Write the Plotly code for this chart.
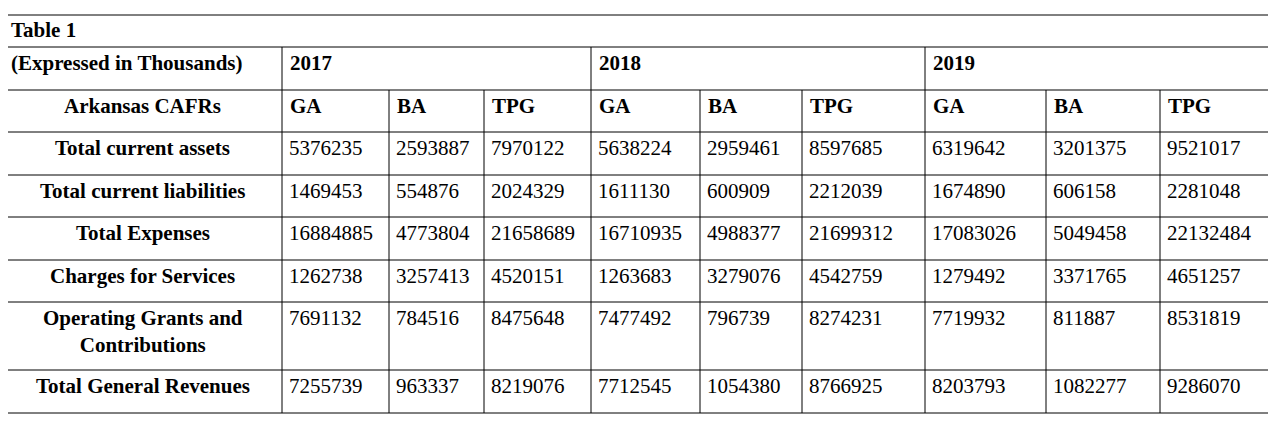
import plotly.graph_objects as go

# data
title = "Table 1"
unit_label = "(Expressed in Thousands)"
years = ["2017", "2018", "2019"]
sub_cols = ["GA", "BA", "TPG"]
row_header = "Arkansas CAFRs"
row_labels = [
    "Total current assets",
    "Total current liabilities",
    "Total Expenses",
    "Charges for Services",
    "Operating Grants and<br>Contributions",
    "Total General Revenues",
]
values = [
    [5376235, 2593887, 7970122, 5638224, 2959461, 8597685, 6319642, 3201375, 9521017],
    [1469453, 554876, 2024329, 1611130, 600909, 2212039, 1674890, 606158, 2281048],
    [16884885, 4773804, 21658689, 16710935, 4988377, 21699312, 17083026, 5049458, 22132484],
    [1262738, 3257413, 4520151, 1263683, 3279076, 4542759, 1279492, 3371765, 4651257],
    [7691132, 784516, 8475648, 7477492, 796739, 8274231, 7719932, 811887, 8531819],
    [7255739, 963337, 8219076, 7712545, 1054380, 8766925, 8203793, 1082277, 9286070],
]

# layout geometry (pixels)
col_x = [3, 282, 389, 484, 591, 700, 802, 925, 1046, 1160, 1272]
row_y = [15, 47, 90, 132, 175, 217, 260, 302, 370, 413]
FONT = "Liberation Serif"
FS = 21
OFF = 8  # page body margin

shapes = []
def line(x0, y0, x1, y1):
    shapes.append(dict(type="line", x0=x0, y0=y0, x1=x1, y1=y1,
                       line=dict(color="black", width=1), xref="x", yref="y"))

for y in row_y:
    line(col_x[0], y, col_x[-1], y)
line(col_x[0], row_y[0], col_x[0], row_y[-1])
line(col_x[-1], row_y[0], col_x[-1], row_y[-1])
for i in (1, 4, 7):
    line(col_x[i], row_y[1], col_x[i], row_y[2])
for x in col_x[1:-1]:
    line(x, row_y[2], x, row_y[-1])

ann = []
def text(x, y, s, bold=False, anchor="left"):
    ann.append(dict(x=x, y=y, text=f"<b>{s}</b>" if bold else s, showarrow=False,
                    xanchor=anchor, yanchor="top", align="center",
                    font=dict(family=FONT, size=FS, color="black"),
                    xref="x", yref="y"))

text(col_x[0] + 6, row_y[0] + 1, title, bold=True)
text(col_x[0] + 6, row_y[1] + 2, unit_label, bold=True)
for k, yr in enumerate(years):
    text(col_x[1 + 3 * k] + 6, row_y[1] + 2, yr, bold=True)
text((col_x[0] + col_x[1]) / 2, row_y[2] + 2, row_header, bold=True, anchor="center")
for j in range(9):
    text(col_x[1 + j] + 6, row_y[2] + 2, sub_cols[j % 3], bold=True)
for r, lab in enumerate(row_labels):
    y = row_y[3 + r] + 2
    text((col_x[0] + col_x[1]) / 2, y, lab, bold=True, anchor="center")
    for j, v in enumerate(values[r]):
        text(col_x[1 + j] + 5, y, str(v))

fig = go.Figure()
fig.update_layout(
    width=1276, height=432, margin=dict(l=0, r=0, t=0, b=0),
    paper_bgcolor="white", plot_bgcolor="white",
    xaxis=dict(range=[OFF, 1276 + OFF], visible=False, fixedrange=True),
    yaxis=dict(range=[432 + OFF, OFF], visible=False, fixedrange=True),
    shapes=shapes, annotations=ann, showlegend=False,
)
fig.write_html("out.html")
